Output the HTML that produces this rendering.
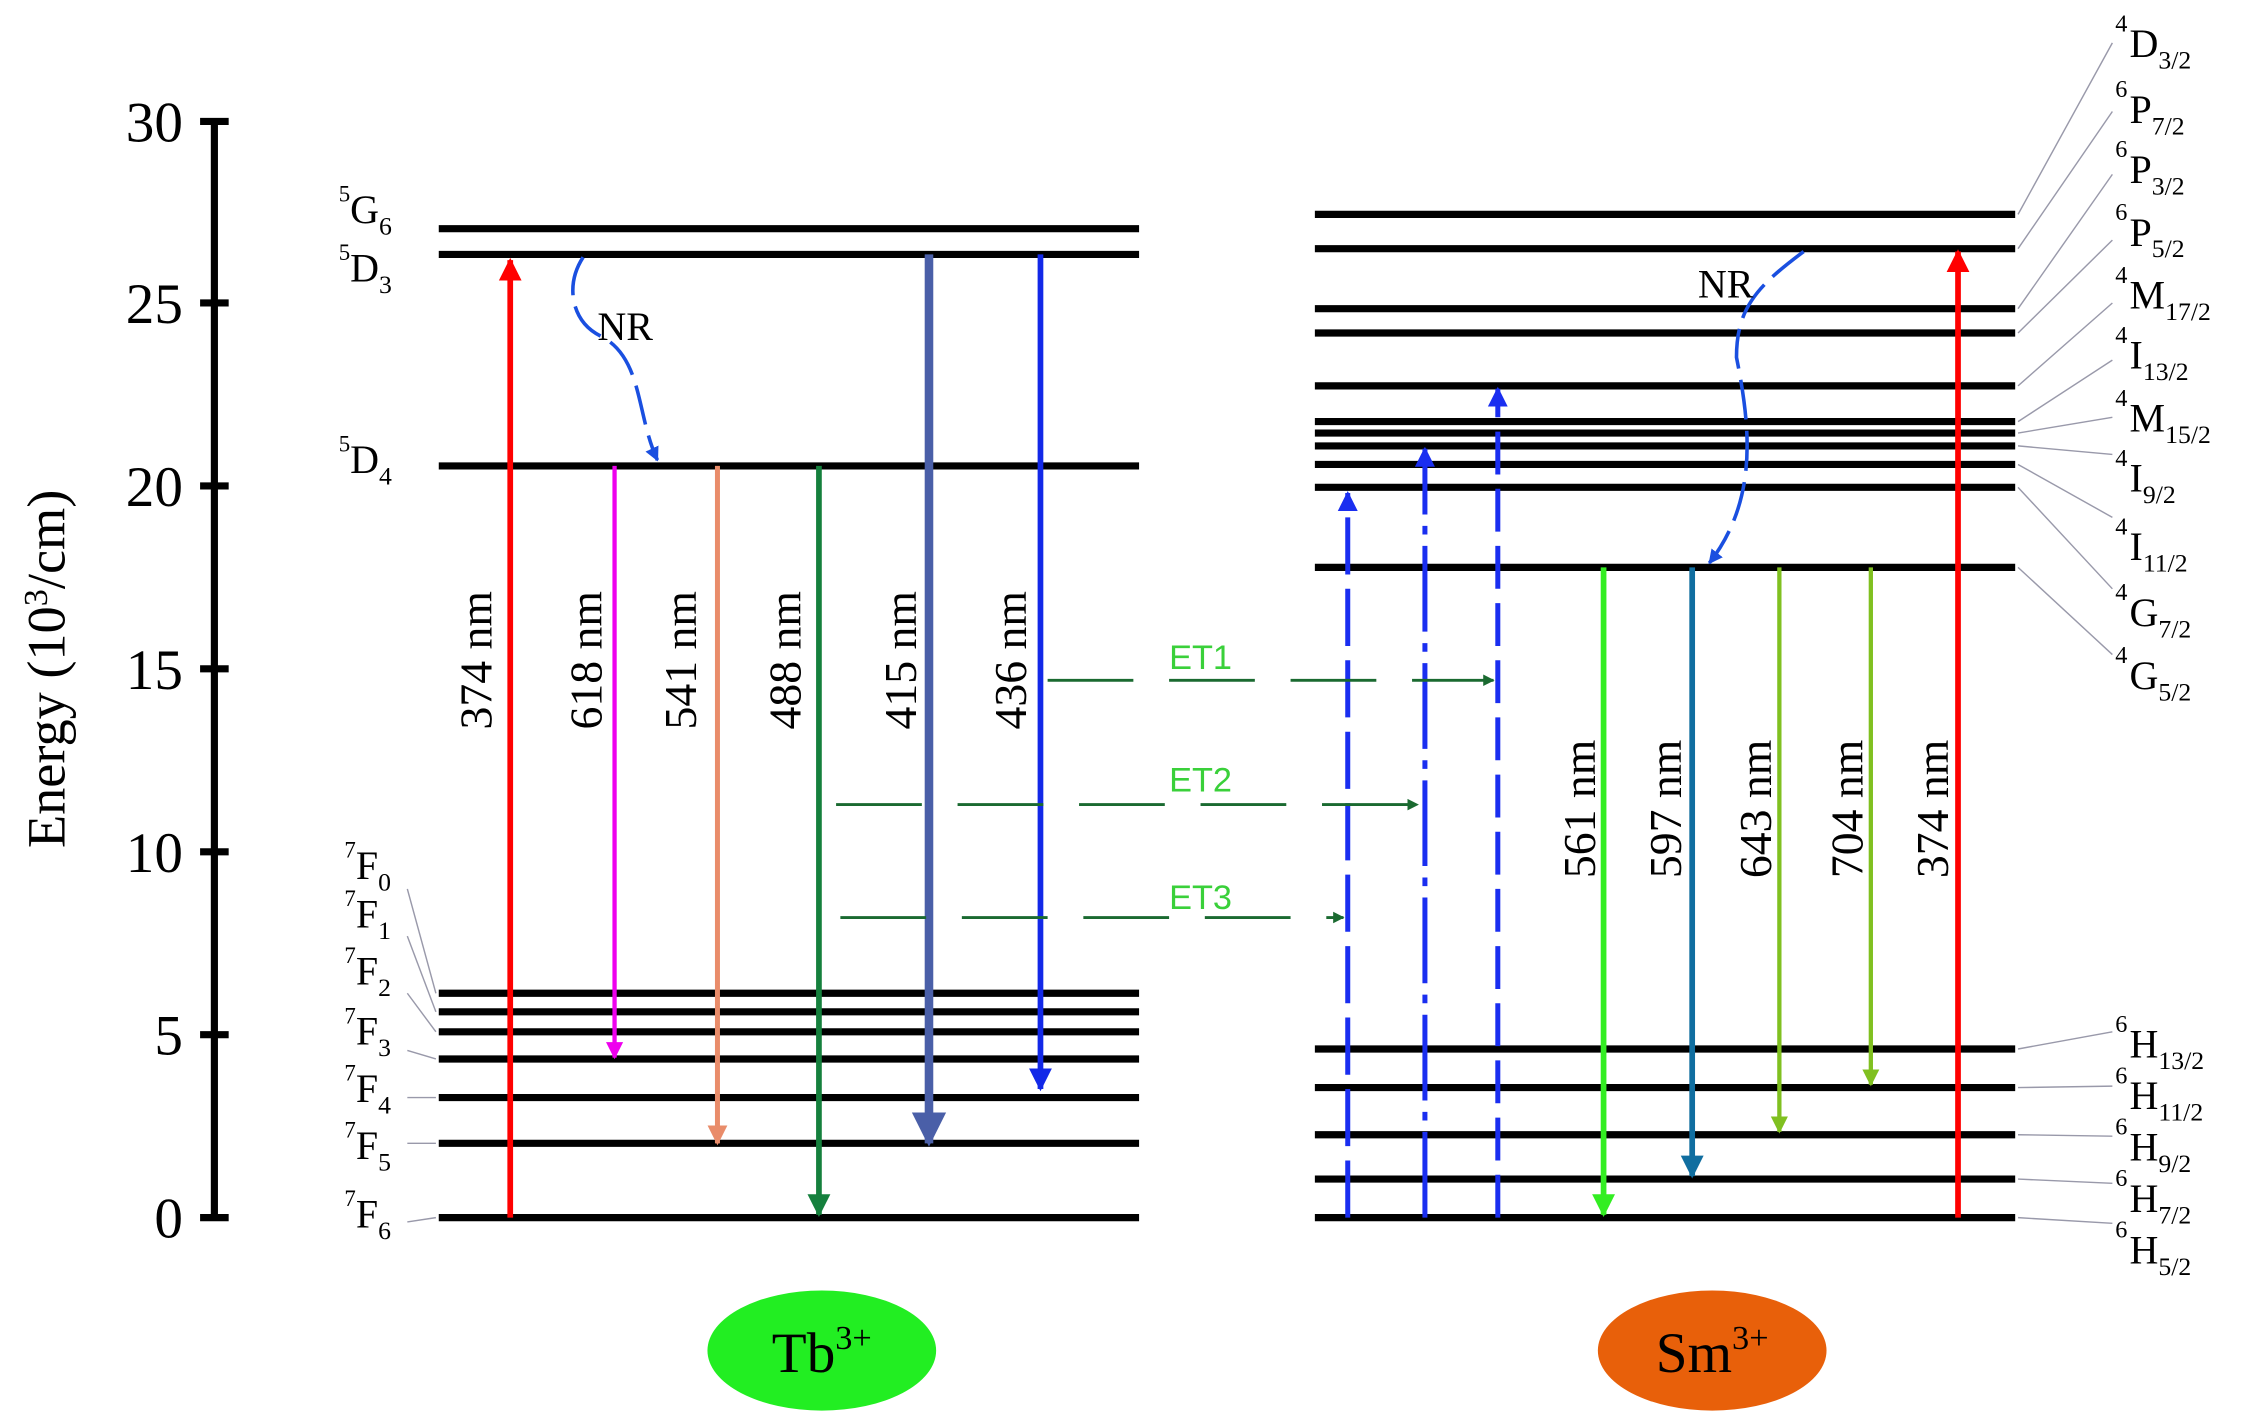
<!DOCTYPE html>
<html><head><meta charset="utf-8"><style>html,body{margin:0;padding:0;background:#fff}svg{display:block}</style></head>
<body>
<svg width="2241" height="1424" viewBox="0 0 1568 996.4" preserveAspectRatio="none" xmlns="http://www.w3.org/2000/svg" font-family="Liberation Serif, serif">
<defs>
<marker id="a" viewBox="0 0 10 10" refX="9" refY="5" markerWidth="4" markerHeight="5" orient="auto" markerUnits="strokeWidth"><path d="M0,0L10,5L0,10z" fill="context-stroke"/></marker>
</defs>
<g stroke="#000" stroke-width="5">
<line x1="150" y1="83" x2="150" y2="854"/>
<line x1="140" y1="85" x2="160" y2="85"/><line x1="140" y1="212" x2="160" y2="212"/><line x1="140" y1="340" x2="160" y2="340"/><line x1="140" y1="468" x2="160" y2="468"/><line x1="140" y1="596" x2="160" y2="596"/><line x1="140" y1="724" x2="160" y2="724"/><line x1="140" y1="852" x2="160" y2="852"/>
</g>
<g font-size="40" text-anchor="end">
<text x="128" y="99">30</text><text x="128" y="226">25</text><text x="128" y="354">20</text><text x="128" y="482">15</text><text x="128" y="610">10</text><text x="128" y="738">5</text><text x="128" y="866">0</text>
</g>
<text transform="translate(45,468) rotate(-90)" font-size="38" text-anchor="middle">Energy (10<tspan dy="-12" font-size="24">3</tspan><tspan dy="12">/cm)</tspan></text>
<g stroke="#000" stroke-width="5">
<line x1="307" y1="160" x2="797" y2="160"/><line x1="307" y1="178" x2="797" y2="178"/><line x1="307" y1="326" x2="797" y2="326"/>
<line x1="307" y1="695" x2="797" y2="695"/><line x1="307" y1="708" x2="797" y2="708"/><line x1="307" y1="722" x2="797" y2="722"/><line x1="307" y1="741" x2="797" y2="741"/><line x1="307" y1="768" x2="797" y2="768"/><line x1="307" y1="800" x2="797" y2="800"/><line x1="307" y1="852" x2="797" y2="852"/>
<line x1="920" y1="150" x2="1410" y2="150"/><line x1="920" y1="174" x2="1410" y2="174"/><line x1="920" y1="216" x2="1410" y2="216"/><line x1="920" y1="233" x2="1410" y2="233"/><line x1="920" y1="270" x2="1410" y2="270"/><line x1="920" y1="295" x2="1410" y2="295"/><line x1="920" y1="303" x2="1410" y2="303"/><line x1="920" y1="312" x2="1410" y2="312"/><line x1="920" y1="325" x2="1410" y2="325"/><line x1="920" y1="341" x2="1410" y2="341"/><line x1="920" y1="397" x2="1410" y2="397"/>
<line x1="920" y1="734" x2="1410" y2="734"/><line x1="920" y1="761" x2="1410" y2="761"/><line x1="920" y1="794" x2="1410" y2="794"/><line x1="920" y1="825" x2="1410" y2="825"/><line x1="920" y1="852" x2="1410" y2="852"/>
</g>
<g font-size="28">
<text x="237" y="141" font-size="16">5</text><text x="245" y="156">G<tspan dy="8" font-size="18">6</tspan></text>
<text x="237" y="182" font-size="16">5</text><text x="245" y="197">D<tspan dy="8" font-size="18">3</tspan></text>
<text x="237" y="316" font-size="16">5</text><text x="245" y="331">D<tspan dy="8" font-size="18">4</tspan></text>
<text x="241" y="600" font-size="16">7</text><text x="249" y="615">F<tspan dy="8" font-size="18">0</tspan></text>
<text x="241" y="634" font-size="16">7</text><text x="249" y="649">F<tspan dy="8" font-size="18">1</tspan></text>
<text x="241" y="674" font-size="16">7</text><text x="249" y="689">F<tspan dy="8" font-size="18">2</tspan></text>
<text x="241" y="716" font-size="16">7</text><text x="249" y="731">F<tspan dy="8" font-size="18">3</tspan></text>
<text x="241" y="756" font-size="16">7</text><text x="249" y="771">F<tspan dy="8" font-size="18">4</tspan></text>
<text x="241" y="796" font-size="16">7</text><text x="249" y="811">F<tspan dy="8" font-size="18">5</tspan></text>
<text x="241" y="844" font-size="16">7</text><text x="249" y="859">F<tspan dy="8" font-size="18">6</tspan></text>
</g>
<g stroke="#99a" stroke-width="1" fill="none">
<path d="M285,622 L305,695"/><path d="M285,655 L305,708"/><path d="M285,695 L305,722"/><path d="M285,735 L305,741"/><path d="M285,768 L305,768"/><path d="M285,800 L305,800"/><path d="M285,855 L305,852"/>
<path d="M1412,150 L1478,30"/><path d="M1412,174 L1478,78"/><path d="M1412,216 L1478,122"/><path d="M1412,233 L1478,168"/><path d="M1412,270 L1478,212"/><path d="M1412,295 L1478,252"/><path d="M1412,303 L1478,292"/><path d="M1412,312 L1478,318"/><path d="M1412,325 L1478,362"/><path d="M1412,341 L1478,412"/><path d="M1412,397 L1478,458"/>
<path d="M1412,734 L1478,722"/><path d="M1412,761 L1478,760"/><path d="M1412,794 L1478,795"/><path d="M1412,825 L1478,828"/><path d="M1412,852 L1478,856"/>
</g>
<g font-size="28">
<text x="1480" y="22" font-size="17">4</text><text x="1490" y="40">D<tspan dy="8" font-size="18">3/2</tspan></text>
<text x="1480" y="68" font-size="17">6</text><text x="1490" y="86">P<tspan dy="8" font-size="18">7/2</tspan></text>
<text x="1480" y="110" font-size="17">6</text><text x="1490" y="128">P<tspan dy="8" font-size="18">3/2</tspan></text>
<text x="1480" y="154" font-size="17">6</text><text x="1490" y="172">P<tspan dy="8" font-size="18">5/2</tspan></text>
<text x="1480" y="198" font-size="17">4</text><text x="1490" y="216">M<tspan dy="8" font-size="18">17/2</tspan></text>
<text x="1480" y="240" font-size="17">4</text><text x="1490" y="258">I<tspan dy="8" font-size="18">13/2</tspan></text>
<text x="1480" y="284" font-size="17">4</text><text x="1490" y="302">M<tspan dy="8" font-size="18">15/2</tspan></text>
<text x="1480" y="326" font-size="17">4</text><text x="1490" y="344">I<tspan dy="8" font-size="18">9/2</tspan></text>
<text x="1480" y="374" font-size="17">4</text><text x="1490" y="392">I<tspan dy="8" font-size="18">11/2</tspan></text>
<text x="1480" y="420" font-size="17">4</text><text x="1490" y="438">G<tspan dy="8" font-size="18">7/2</tspan></text>
<text x="1480" y="464" font-size="17">4</text><text x="1490" y="482">G<tspan dy="8" font-size="18">5/2</tspan></text>
<text x="1480" y="722" font-size="17">6</text><text x="1490" y="740">H<tspan dy="8" font-size="18">13/2</tspan></text>
<text x="1480" y="758" font-size="17">6</text><text x="1490" y="776">H<tspan dy="8" font-size="18">11/2</tspan></text>
<text x="1480" y="794" font-size="17">6</text><text x="1490" y="812">H<tspan dy="8" font-size="18">9/2</tspan></text>
<text x="1480" y="830" font-size="17">6</text><text x="1490" y="848">H<tspan dy="8" font-size="18">7/2</tspan></text>
<text x="1480" y="866" font-size="17">6</text><text x="1490" y="884">H<tspan dy="8" font-size="18">5/2</tspan></text>
</g>
<line x1="357" y1="852" x2="357" y2="182" stroke="#f00" stroke-width="4" marker-end="url(#a)"/>
<line x1="430" y1="326" x2="430" y2="740" stroke="#e0e" stroke-width="3" marker-end="url(#a)"/>
<line x1="502" y1="326" x2="502" y2="800" stroke="#e98c6a" stroke-width="3.5" marker-end="url(#a)"/>
<line x1="573" y1="326" x2="573" y2="850" stroke="#15803d" stroke-width="4" marker-end="url(#a)"/>
<line x1="650" y1="178" x2="650" y2="800" stroke="#4a5fa8" stroke-width="6" marker-end="url(#a)"/>
<line x1="728" y1="178" x2="728" y2="762" stroke="#1228e8" stroke-width="4" marker-end="url(#a)"/>
<g font-size="32">
<text transform="translate(344,462) rotate(-90)" text-anchor="middle">374 nm</text>
<text transform="translate(421,462) rotate(-90)" text-anchor="middle">618 nm</text>
<text transform="translate(487,462) rotate(-90)" text-anchor="middle">541 nm</text>
<text transform="translate(560,462) rotate(-90)" text-anchor="middle">488 nm</text>
<text transform="translate(641,462) rotate(-90)" text-anchor="middle">415 nm</text>
<text transform="translate(718,462) rotate(-90)" text-anchor="middle">436 nm</text>
<text transform="translate(1116,566) rotate(-90)" text-anchor="middle">561 nm</text>
<text transform="translate(1176,566) rotate(-90)" text-anchor="middle">597 nm</text>
<text transform="translate(1239,566) rotate(-90)" text-anchor="middle">643 nm</text>
<text transform="translate(1303,566) rotate(-90)" text-anchor="middle">704 nm</text>
<text transform="translate(1363,566) rotate(-90)" text-anchor="middle">374 nm</text>
</g>
<path d="M408,180 C395,200 400,225 420,235 C450,250 445,290 460,322" stroke="#1a4fe0" stroke-width="2.5" fill="none" stroke-dasharray="28,8" marker-end="url(#a)"/>
<text x="418" y="238" font-size="28">NR</text>
<path d="M1262,176 C1230,200 1215,215 1215,250 C1225,300 1230,350 1196,394" stroke="#1a4fe0" stroke-width="2.5" fill="none" stroke-dasharray="28,8" marker-end="url(#a)"/>
<text x="1188" y="208" font-size="28">NR</text>
<line x1="943" y1="852" x2="943" y2="345" stroke="#1a2ef0" stroke-width="3.5" stroke-dasharray="40,10" marker-end="url(#a)"/>
<line x1="997" y1="852" x2="997" y2="314" stroke="#1a2ef0" stroke-width="3.5" stroke-dasharray="60,8,6,8" marker-end="url(#a)"/>
<line x1="1048" y1="852" x2="1048" y2="272" stroke="#1a2ef0" stroke-width="3.5" stroke-dasharray="30,10" marker-end="url(#a)"/>
<line x1="1122" y1="397" x2="1122" y2="850" stroke="#33ee22" stroke-width="4" marker-end="url(#a)"/>
<line x1="1184" y1="397" x2="1184" y2="823" stroke="#106ea0" stroke-width="4" marker-end="url(#a)"/>
<line x1="1245" y1="397" x2="1245" y2="792" stroke="#80c020" stroke-width="3" marker-end="url(#a)"/>
<line x1="1309" y1="397" x2="1309" y2="759" stroke="#80c020" stroke-width="3" marker-end="url(#a)"/>
<line x1="1370" y1="852" x2="1370" y2="176" stroke="#f00" stroke-width="4" marker-end="url(#a)"/>
<g stroke="#1a6a30" stroke-width="2" fill="none" stroke-dasharray="60,25" marker-end="url(#a)">
<line x1="733" y1="476" x2="1045" y2="476"/>
<line x1="585" y1="563" x2="992" y2="563"/>
<line x1="588" y1="642" x2="940" y2="642"/>
</g>
<g fill="#3ad03a" font-size="24" font-family="Liberation Sans, sans-serif" text-anchor="middle">
<text x="840" y="468">ET1</text><text x="840" y="554">ET2</text><text x="840" y="636">ET3</text>
</g>
<ellipse cx="575" cy="945" rx="80" ry="42" fill="#22ee22"/>
<text x="575" y="960" font-size="40" text-anchor="middle">Tb<tspan dy="-16" font-size="24">3+</tspan></text>
<ellipse cx="1198" cy="945" rx="80" ry="42" fill="#e8600a"/>
<text x="1198" y="960" font-size="40" text-anchor="middle">Sm<tspan dy="-16" font-size="24">3+</tspan></text>
</svg>
</body></html>
